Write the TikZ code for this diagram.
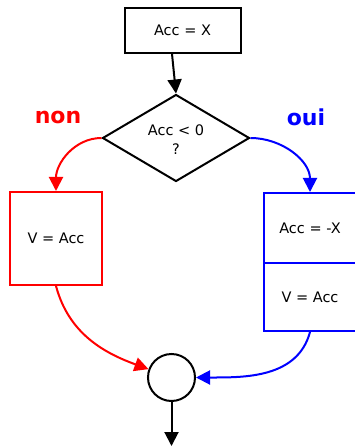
\documentclass[tikz,border=0pt]{standalone}
\usepackage{fontspec}
\setmainfont{DejaVu Sans}
\usetikzlibrary{shapes.geometric,arrows.meta}
\begin{document}
\begin{tikzpicture}[x=1pt,y=-1pt,
  every node/.style={font=\fontsize{14.5}{19}\selectfont, inner sep=0pt},
  box/.style={draw, line width=2pt, rectangle},
  arr/.style={line width=2pt, -{Triangle[length=14pt,width=14pt]}},
  lbl/.style={font=\fontsize{22}{24}\selectfont\bfseries}
]
\useasboundingbox (0,0) rectangle (354,446);
\definecolor{myred}{RGB}{255,0,0}
\definecolor{myblue}{RGB}{0,0,255}

% initialisation
\node[box, minimum width=116pt, minimum height=45pt] (init) at (182.5,30.5) {Acc = X};

% test
\node[draw, line width=2pt, diamond, minimum width=147pt, minimum height=87pt, align=center,
      text depth=0pt]
  (test) at (176,138) {\raisebox{-3pt}{Acc < 0}\\\raisebox{-3pt}{?}};

% branch labels
\node[lbl, text=myred] (non) at (58,117) {non};
\node[lbl, text=myblue] (oui) at (306,117) {oui};

% left branch
\node[box, draw=myred, minimum width=92pt, minimum height=93pt] (left) at (56,238.5) {V = Acc};

% right branch: two stacked cells sharing the dividing line
\node[box, draw=myblue, minimum width=93pt, minimum height=70pt] (r1) at (310,228) {Acc = -X};
\node[box, draw=myblue, minimum width=93pt, minimum height=68pt] (r2) at (310,297) {V = Acc};

% junction
\node[draw, circle, line width=2pt, minimum size=47pt] (join) at (171.5,377.5) {};
\coordinate (out) at (171.5,446);

% connectors
\draw[arr] ([xshift=-10.5pt]init.south) -- (test.north);
\draw[arr, myred] (test.west) to[out=180,in=90] (left.north);
\draw[arr, myblue] (test.east) to[out=0,in=90] (r1.north);
\draw[arr, myred] (left.south) to[out=-75,in=160] (join.160);
\draw[arr, myblue] (r2.south) to[out=-105,in=0] (join.east);
\draw[arr] (join.south) -- (out);
\end{tikzpicture}
\end{document}
